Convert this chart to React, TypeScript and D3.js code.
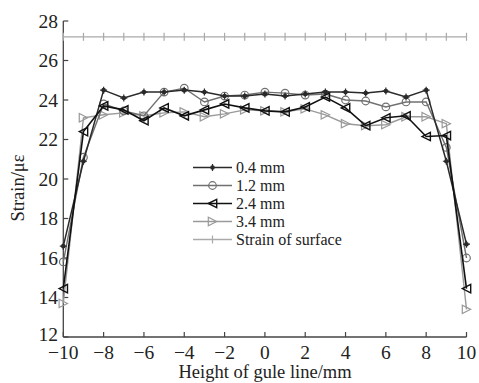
import React from "react";
import * as d3 from "d3";

const heights = [-10, -9, -8, -7, -6, -5, -4, -3, -2, -1, 0, 1, 2, 3, 4, 5, 6, 7, 8, 9, 10];
const s04 = [16.6, 20.9, 24.5, 24.1, 24.4, 24.4, 24.5, 24.4, 24.2, 24.2, 24.3, 24.2, 24.3, 24.4, 24.4, 24.35, 24.45, 24.15, 24.5, 20.9, 16.7];
const s12 = [15.8, 21.1, 23.8, 23.45, 23.2, 24.4, 24.6, 23.9, 24.2, 24.25, 24.4, 24.35, 24.25, 24.3, 24.0, 23.95, 23.65, 23.9, 23.9, 21.6, 16.0];
const s24 = [14.45, 22.4, 23.7, 23.5, 22.95, 23.6, 23.2, 23.5, 23.8, 23.6, 23.45, 23.4, 23.65, 24.15, 23.6, 22.7, 23.1, 23.2, 22.15, 22.2, 14.45];
const s34 = [13.7, 23.1, 23.25, 23.35, 23.2, 23.35, 23.4, 23.15, 23.3, 23.5, 23.45, 23.4, 23.55, 23.25, 22.8, 22.7, 22.75, 23.15, 23.15, 22.8, 13.4];
const surface = heights.map(() => 27.2);
const seriesNames = ["0.4 mm", "1.2 mm", "2.4 mm", "3.4 mm", "Strain of surface"];
const xTicks = [-10, -8, -6, -4, -2, 0, 2, 4, 6, 8, 10];
const yTicks = [12, 14, 16, 18, 20, 22, 24, 26, 28];

const FONT = "'Liberation Serif', 'Times New Roman', serif";

type Kind = "star" | "circle" | "tleft" | "tright" | "plus";

function Marker({ kind, x, y, color }: { kind: Kind; x: number; y: number; color: string }) {
  if (kind === "star") {
    return (
      <g>
        <circle cx={x} cy={y} r={2.3} fill={color} />
        <path d={`M${x - 3.5},${y}H${x + 3.5}M${x},${y - 3.5}V${y + 3.5}`} stroke={color} strokeWidth={1.2} />
      </g>
    );
  }
  if (kind === "circle") {
    return <circle cx={x} cy={y} r={3.8} fill="none" stroke={color} strokeWidth={1.2} />;
  }
  if (kind === "tleft") {
    const s = 4.2;
    return <path d={`M${x - s},${y}L${x + s},${y - s}L${x + s},${y + s}Z`} fill="none" stroke={color} strokeWidth={1.4} />;
  }
  if (kind === "tright") {
    const s = 4.2;
    return <path d={`M${x + s},${y}L${x - s},${y - s}L${x - s},${y + s}Z`} fill="none" stroke={color} strokeWidth={1.2} />;
  }
  return <path d={`M${x},${y - 4}V${y + 4}`} stroke={color} strokeWidth={1.2} />;
}

export default function App() {
  const W = 479, H = 383;
  const x = d3.scaleLinear().domain([-10, 10]).range([63.3, 466.5]);
  const y = d3.scaleLinear().domain([12, 28]).range([337, 21]);
  const line = d3.line<[number, number]>().x((d) => x(d[0])).y((d) => y(d[1]));

  const series = [
    { name: seriesNames[0], vals: s04, color: "#2a2a2a", width: 1.5, kind: "star" as Kind },
    { name: seriesNames[1], vals: s12, color: "#707070", width: 1.4, kind: "circle" as Kind },
    { name: seriesNames[2], vals: s24, color: "#111111", width: 1.6, kind: "tleft" as Kind },
    { name: seriesNames[3], vals: s34, color: "#9a9a9a", width: 1.4, kind: "tright" as Kind },
    { name: seriesNames[4], vals: surface, color: "#aaaaaa", width: 1.3, kind: "plus" as Kind },
  ];
  const drawOrder = [4, 3, 1, 0, 2];
  const axisColor = "#444";

  return (
    <svg width={W} height={H} style={{ position: "absolute", left: 0, top: 0, background: "#fff" }}>
      <rect width={W} height={H} fill="#fff" />
      <line x1={x(-10)} x2={x(-10)} y1={y(12)} y2={y(28)} stroke={axisColor} strokeWidth={1.3} />
      <line x1={x(-10)} x2={x(10)} y1={y(12)} y2={y(12)} stroke={axisColor} strokeWidth={1.3} />
      {yTicks.map((t) => (
        <g key={"y" + t}>
          <line x1={x(-10)} x2={x(-10) + 5} y1={y(t)} y2={y(t)} stroke={axisColor} strokeWidth={1.2} />
          <text x={58} y={y(t) + (t === 12 ? 4 : 6.5)} textAnchor="end" fontFamily={FONT} fontSize={19.5} fill="#222">{t}</text>
        </g>
      ))}
      {xTicks.map((t) => (
        <g key={"x" + t}>
          <line x1={x(t)} x2={x(t)} y1={y(12)} y2={y(12) - 5} stroke={axisColor} strokeWidth={1.2} />
          <text x={x(t)} y={359} textAnchor="middle" fontFamily={FONT} fontSize={19.5} fill="#222">{t < 0 ? "\u2212" + Math.abs(t) : t}</text>
        </g>
      ))}
      <text x={265} y={378} textAnchor="middle" fontFamily={FONT} fontSize={18.5} fill="#222">Height of gule line/mm</text>
      <text transform={`translate(24,188) rotate(-90)`} textAnchor="middle" fontFamily={FONT} fontSize={18.5} fill="#222">Strain/με</text>

      {drawOrder.map((i) => {
        const s = series[i];
        const pts = heights.map((h, k) => [h, s.vals[k]] as [number, number]);
        return (
          <g key={s.name}>
            <path d={line(pts) || ""} fill="none" stroke={s.color} strokeWidth={s.width} />
            {pts.map((p, k) => (
              <Marker key={k} kind={s.kind} x={x(p[0])} y={y(p[1])} color={s.color} />
            ))}
          </g>
        );
      })}

      {series.map((s, i) => {
        const ly = 167.5 + i * 18;
        return (
          <g key={"lg" + i}>
            <line x1={193} x2={232} y1={ly} y2={ly} stroke={s.color} strokeWidth={s.width} />
            <Marker kind={s.kind} x={212.5} y={ly} color={s.color} />
            <text x={236} y={ly + 5.5} fontFamily={FONT} fontSize={16} fill="#222">{s.name}</text>
          </g>
        );
      })}
    </svg>
  );
}
